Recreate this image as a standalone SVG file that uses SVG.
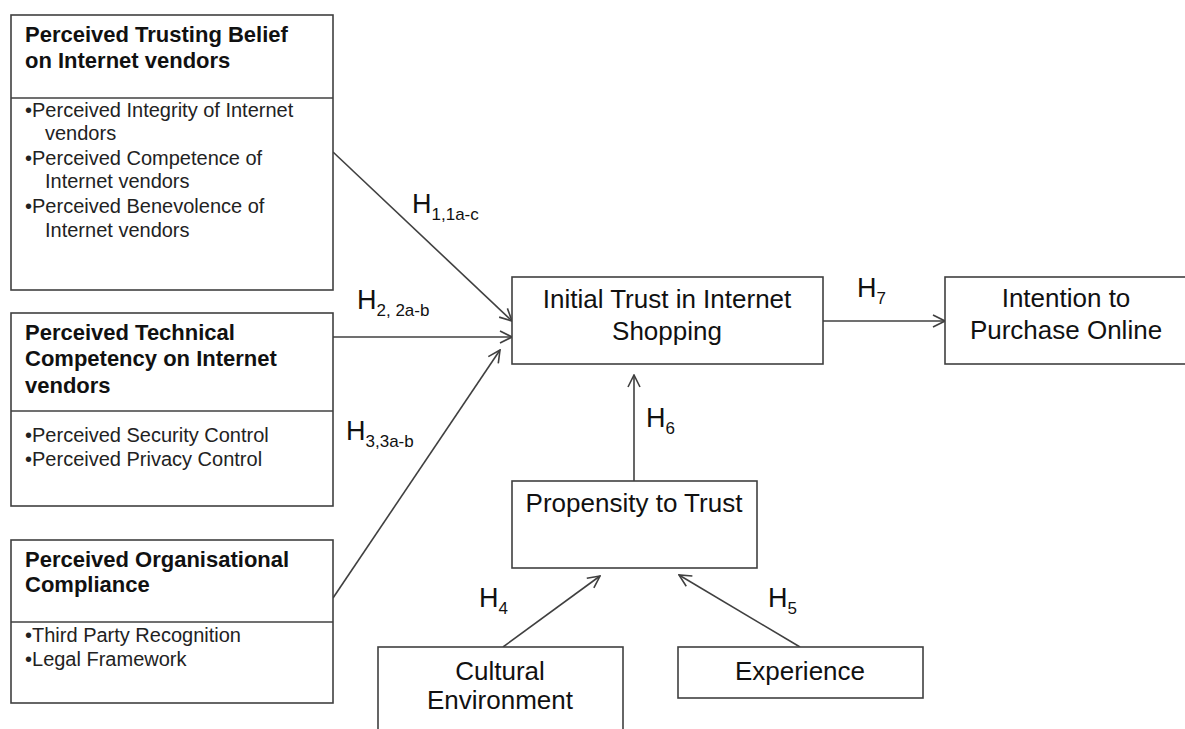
<svg xmlns="http://www.w3.org/2000/svg" width="1185" height="729" viewBox="0 0 1185 729">
<style>
.box{fill:#fff;stroke:#404040;stroke-width:1.6}
.div{stroke:#404040;stroke-width:1.6}
.title{font-family:"Liberation Sans",Arial,sans-serif;font-weight:bold;font-size:22px;fill:#111}
.item{font-family:"Liberation Sans",Arial,sans-serif;font-size:20px;fill:#222}
.lbl{font-family:"Liberation Sans",Arial,sans-serif;font-size:26px;fill:#111;text-anchor:middle}
.h{font-family:"Liberation Sans",Arial,sans-serif;font-size:27px;fill:#111}
.sub{font-size:17px}
.conn{stroke:#404040;stroke-width:1.6;fill:none;marker-end:url(#arr)}
</style>
<defs>
<marker id="arr" viewBox="0 0 14 14" refX="13" refY="7" markerWidth="14" markerHeight="14" markerUnits="userSpaceOnUse" orient="auto">
<path d="M1,1 L13,7 L1,13" fill="none" stroke="#404040" stroke-width="1.6"/>
</marker>
</defs>
<rect width="1185" height="729" fill="#fff"/>
<g id="connectors">
<line class="conn" x1="333" y1="152" x2="512" y2="321"/>
<line class="conn" x1="333" y1="337" x2="512" y2="337"/>
<line class="conn" x1="333" y1="598" x2="500" y2="350"/>
<line class="conn" x1="823" y1="321" x2="945" y2="321"/>
<line class="conn" x1="634" y1="481" x2="634" y2="375"/>
<line class="conn" x1="503" y1="647" x2="600" y2="576"/>
<line class="conn" x1="800" y1="647" x2="679" y2="575"/>
</g>
<g id="labels">
<text class="h" x="412" y="213">H<tspan class="sub" dy="7">1,1a-c</tspan></text>
<text class="h" x="357" y="309">H<tspan class="sub" dy="7">2, 2a-b</tspan></text>
<text class="h" x="346" y="440">H<tspan class="sub" dy="7">3,3a-b</tspan></text>
<text class="h" x="857" y="297">H<tspan class="sub" dy="7">7</tspan></text>
<text class="h" x="646" y="427">H<tspan class="sub" dy="7">6</tspan></text>
<text class="h" x="479" y="607">H<tspan class="sub" dy="7">4</tspan></text>
<text class="h" x="768" y="607">H<tspan class="sub" dy="7">5</tspan></text>
</g>
<g id="trusting-belief">
<rect class="box" x="11" y="15" width="322" height="275"/>
<line class="div" x1="11" y1="98" x2="333" y2="98"/>
<text class="title" x="25" y="42">Perceived Trusting Belief</text>
<text class="title" x="25" y="68">on Internet vendors</text>
<text class="item" x="25" y="117">•Perceived Integrity of Internet</text>
<text class="item" x="45" y="140">vendors</text>
<text class="item" x="25" y="165">•Perceived Competence of</text>
<text class="item" x="45" y="188">Internet vendors</text>
<text class="item" x="25" y="213">•Perceived Benevolence of</text>
<text class="item" x="45" y="237">Internet vendors</text>
</g>
<g id="technical-competency">
<rect class="box" x="11" y="313" width="322" height="193"/>
<line class="div" x1="11" y1="411" x2="333" y2="411"/>
<text class="title" x="25" y="340">Perceived Technical</text>
<text class="title" x="25" y="366">Competency on Internet</text>
<text class="title" x="25" y="393">vendors</text>
<text class="item" x="25" y="442">•Perceived Security Control</text>
<text class="item" x="25" y="466">•Perceived Privacy Control</text>
</g>
<g id="organisational-compliance">
<rect class="box" x="11" y="540" width="322" height="163"/>
<line class="div" x1="11" y1="622" x2="333" y2="622"/>
<text class="title" x="25" y="567">Perceived Organisational</text>
<text class="title" x="25" y="592">Compliance</text>
<text class="item" x="25" y="642">•Third Party Recognition</text>
<text class="item" x="25" y="666">•Legal Framework</text>
</g>
<g id="initial-trust">
<rect class="box" x="512" y="277" width="311" height="87"/>
<text class="lbl" x="667" y="308">Initial Trust in Internet</text>
<text class="lbl" x="667" y="340">Shopping</text>
</g>
<g id="intention">
<rect class="box" x="945" y="277" width="250" height="87"/>
<text class="lbl" x="1066" y="307">Intention to</text>
<text class="lbl" x="1066" y="339">Purchase Online</text>
</g>
<g id="propensity">
<rect class="box" x="512" y="481" width="245" height="87"/>
<text class="lbl" x="634" y="512">Propensity to Trust</text>
</g>
<g id="cultural">
<rect class="box" x="378" y="647" width="245" height="100"/>
<text class="lbl" x="500" y="680">Cultural</text>
<text class="lbl" x="500" y="709">Environment</text>
</g>
<g id="experience">
<rect class="box" x="678" y="647" width="245" height="51"/>
<text class="lbl" x="800" y="680">Experience</text>
</g>
</svg>
